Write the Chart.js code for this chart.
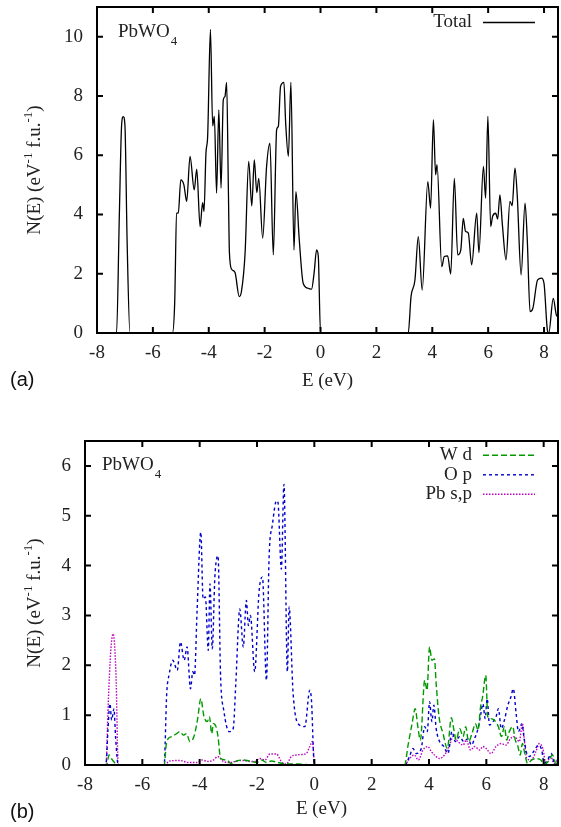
<!DOCTYPE html>
<html><head><meta charset="utf-8">
<script src="https://cdn.jsdelivr.net/npm/chart.js@4.4.1/dist/chart.umd.min.js"></script>
<style>
html,body{margin:0;padding:0;background:#fff;width:561px;height:827px;overflow:hidden}
#wa{position:absolute;left:0;top:0;width:561px;height:410px}
#wb{position:absolute;left:0;top:410px;width:561px;height:417px}
canvas{display:block}
</style></head><body>
<div id="wa"><canvas id="ca" width="561" height="410" style="width:561px;height:410px"></canvas></div>
<div id="wb"><canvas id="cb" width="561" height="417" style="width:561px;height:417px"></canvas></div>
<script>
// ---- tick labels ----
const xTicks = [-8, -6, -4, -2, 0, 2, 4, 6, 8];
const yTicksA = [0, 2, 4, 6, 8, 10];
const yTicksB = [0, 1, 2, 3, 4, 5, 6];

// ---- series: [E (eV), N(E)] ----
const totalDos = [[-8,0],[-7.3,0],[-7.2,4.0],[-7.12,7.0],[-7.06,7.3],[-7.0,7.0],[-6.92,3.0],[-6.82,0],
[-5.3,0],[-5.22,1.0],[-5.15,4.04],[-5.09,4.05],[-5.0,5.17],[-4.89,5.0],[-4.79,4.44],[-4.67,5.96],[-4.52,4.83],[-4.43,5.53],[-4.31,3.59],[-4.22,4.40],[-4.17,4.1],[-4.10,6.07],[-4.04,6.63],[-3.94,10.24],[-3.86,6.99],[-3.80,7.31],[-3.72,4.72],[-3.64,7.53],[-3.56,4.89],[-3.48,7.87],[-3.42,7.98],[-3.36,8.46],[-3.30,5.0],[-3.26,2.7],[-3.18,2.15],[-3.06,2.04],[-2.91,1.23],[-2.83,1.4],[-2.70,2.69],[-2.57,5.79],[-2.46,4.29],[-2.37,5.84],[-2.28,4.74],[-2.21,5.22],[-2.07,3.2],[-1.93,5.62],[-1.81,6.41],[-1.69,2.64],[-1.57,6.86],[-1.51,6.97],[-1.43,8.32],[-1.31,8.46],[-1.25,7.14],[-1.15,5.96],[-1.06,8.46],[-0.95,2.80],[-0.88,4.77],[-0.76,3.14],[-0.62,1.68],[-0.44,1.51],[-0.32,1.48],[-0.23,2.02],[-0.14,2.80],[-0.08,2.6],[0,0],
[3.14,0],[3.24,1.23],[3.38,1.79],[3.50,3.25],[3.64,1.45],[3.84,5.11],[3.94,4.21],[4.04,7.2],[4.12,5.34],[4.17,5.68],[4.34,2.24],[4.43,2.58],[4.55,2.6],[4.66,1.99],[4.79,5.22],[4.91,2.64],[5.02,2.8],[5.11,3.87],[5.19,3.43],[5.29,3.37],[5.41,2.30],[5.59,4.04],[5.67,2.71],[5.83,5.62],[5.91,4.55],[5.99,7.31],[6.09,3.59],[6.16,3.94],[6.27,4.04],[6.34,3.84],[6.42,4.66],[6.51,3.65],[6.64,2.47],[6.78,4.44],[6.86,4.3],[6.96,5.56],[7.04,4.66],[7.18,1.96],[7.32,4.38],[7.40,3.15],[7.50,0.72],[7.60,0.83],[7.77,1.79],[7.91,1.85],[8.00,1.67],[8.12,0.1],[8.17,0],[8.33,1.17],[8.44,0.61],[8.5,0.55]];

const wdDos = [[-8,0],[-7.25,0],[-7.16,0.2],[-7.08,0.13],[-7.0,0.07],[-6.88,0],
[-5.24,0],[-5.15,0.47],[-4.98,0.57],[-4.8,0.63],[-4.69,0.67],[-4.57,0.6],[-4.46,0.63],[-4.34,0.47],[-4.20,0.57],[-4.07,0.93],[-3.96,1.33],[-3.85,0.97],[-3.73,0.87],[-3.66,0.97],[-3.58,0.63],[-3.52,0.83],[-3.43,0.77],[-3.36,0.57],[-3.27,0.13],[-3.06,0.1],[-2.88,0.02],[-2.71,0.08],[-2.48,0.1],[-2.25,0.08],[-2.01,0.05],[-1.84,0.1],[-1.67,0.05],[-1.50,0.08],[-1.27,0.05],[-0.98,0.02],[-0.63,0.02],[0,0],
[3.15,0],[3.27,0.4],[3.40,0.8],[3.52,1.13],[3.61,0.77],[3.70,0.5],[3.85,1.7],[3.93,1.5],[4.02,2.37],[4.10,2.1],[4.19,2.13],[4.25,1.63],[4.35,0.97],[4.49,0.63],[4.64,0.33],[4.78,0.95],[4.87,0.7],[4.95,0.5],[5.07,0.73],[5.19,0.57],[5.28,0.77],[5.38,0.47],[5.50,0.63],[5.62,0.83],[5.71,0.7],[5.80,1.17],[5.88,1.4],[5.94,1.7],[5.98,1.8],[6.05,0.97],[6.16,0.93],[6.28,0.9],[6.42,0.77],[6.53,0.57],[6.63,0.77],[6.71,0.5],[6.80,0.67],[6.92,0.77],[7.01,0.5],[7.09,0.4],[7.18,0.2],[7.26,0.43],[7.34,0.23],[7.44,0.03],[7.58,0.1],[7.73,0.13],[7.90,0.1],[8.02,0.01],[8.16,0.07],[8.31,0.2],[8.43,0.03],[8.5,0.05]];

const opDos = [[-8,0],[-7.27,0],[-7.2,0.7],[-7.13,1.23],[-7.07,0.9],[-6.99,1.13],[-6.93,0.53],[-6.84,0],
[-5.24,0],[-5.15,1.43],[-5.06,1.83],[-4.94,2.1],[-4.78,1.9],[-4.67,2.47],[-4.54,2.1],[-4.44,2.37],[-4.32,1.53],[-4.24,1.87],[-4.18,1.8],[-4.09,3.1],[-3.96,4.67],[-3.88,3.33],[-3.80,3.37],[-3.70,2.3],[-3.64,3.63],[-3.56,2.33],[-3.47,3.77],[-3.36,4.2],[-3.27,1.77],[-3.16,1.1],[-2.97,0.67],[-2.83,0.73],[-2.74,1.63],[-2.60,3.13],[-2.48,2.37],[-2.37,3.3],[-2.30,2.8],[-2.23,3.0],[-2.08,1.87],[-1.93,3.47],[-1.81,3.77],[-1.67,1.7],[-1.58,4.13],[-1.46,4.83],[-1.32,5.3],[-1.27,5.27],[-1.15,3.93],[-1.06,5.63],[-0.94,1.87],[-0.88,3.17],[-0.74,1.43],[-0.57,0.83],[-0.33,0.77],[-0.16,1.5],[-0.10,1.3],[0,0],
[3.15,0],[3.32,0.17],[3.44,0.33],[3.55,0.23],[3.73,0.33],[3.85,0.77],[3.94,0.67],[4.02,1.27],[4.10,0.87],[4.17,1.2],[4.25,0.73],[4.37,0.47],[4.52,0.37],[4.66,0.23],[4.80,0.67],[4.92,0.47],[5.07,0.57],[5.21,0.47],[5.36,0.53],[5.48,0.4],[5.59,0.53],[5.71,0.73],[5.80,1.0],[5.88,1.23],[5.96,0.93],[6.03,1.33],[6.11,0.8],[6.23,0.87],[6.34,0.97],[6.42,1.13],[6.52,0.73],[6.63,0.9],[6.75,1.2],[6.86,1.37],[6.94,1.53],[7.04,1.03],[7.12,0.67],[7.24,0.83],[7.31,0.57],[7.39,0.27],[7.50,0.17],[7.65,0.27],[7.82,0.4],[7.93,0.3],[8.02,0.03],[8.16,0.13],[8.27,0.23],[8.36,0.07],[8.48,0.1]];

const pbDos = [[-8,0],[-7.27,0],[-7.19,1.23],[-7.10,2.3],[-7.02,2.63],[-6.92,1.83],[-6.84,0],
[-5.24,0],[-5.04,0.08],[-4.69,0.09],[-4.40,0.05],[-4.11,0.05],[-3.93,0.1],[-3.7,0.07],[-3.52,0.1],[-3.37,0.17],[-3.17,0.07],[-2.94,0.05],[-2.71,0.08],[-2.48,0.09],[-2.25,0.07],[-2.08,0.07],[-1.90,0.13],[-1.72,0.1],[-1.55,0.22],[-1.32,0.22],[-1.15,0.07],[-0.98,0.02],[-0.80,0.17],[-0.63,0.2],[-0.45,0.21],[-0.28,0.23],[-0.16,0.37],[-0.07,0.47],[0,0.07],[0.02,0],
[3.15,0],[3.32,0.13],[3.49,0.2],[3.63,0.1],[3.79,0.3],[3.96,0.37],[4.08,0.27],[4.19,0.2],[4.37,0.13],[4.54,0.2],[4.72,0.4],[4.84,0.57],[5.01,0.47],[5.19,0.4],[5.30,0.5],[5.45,0.3],[5.59,0.37],[5.77,0.3],[5.88,0.37],[6.0,0.33],[6.16,0.23],[6.34,0.37],[6.52,0.43],[6.69,0.4],[6.84,0.53],[6.98,0.57],[7.15,0.47],[7.26,0.83],[7.32,0.53],[7.41,0.13],[7.56,0.1],[7.73,0.27],[7.85,0.43],[7.97,0.33],[8.08,0.03],[8.25,0.17],[8.36,0.03],[8.48,0.1]];

// ---- drawing helpers ----
const SERIF = '"Liberation Serif", "Times New Roman", serif';
const TXT = '#222';
const toPts = arr => arr.map(([x, y]) => ({x, y}));

function drawYTitle(ctx, cx, cy) {
  const parts = [['N(E) (eV', 0], ['-1', 1], [' f.u.', 0], ['-1', 1], [')', 0]];
  const big = '19px ' + SERIF, small = '13px ' + SERIF;
  let w = 0;
  parts.forEach(([t, s]) => { ctx.font = s ? small : big; w += ctx.measureText(t).width; });
  ctx.save();
  ctx.translate(cx, cy); ctx.rotate(-Math.PI / 2);
  ctx.fillStyle = TXT; ctx.textAlign = 'left'; ctx.textBaseline = 'alphabetic';
  let xx = -w / 2;
  parts.forEach(([t, s]) => { ctx.font = s ? small : big; ctx.fillText(t, xx, s ? -8 : 0); xx += ctx.measureText(t).width; });
  ctx.restore();
}

function framePlugin(cfg) {
  return {
    id: 'frame' + cfg.tag,
    afterDraw(chart) {
      const {ctx, chartArea: a, scales: {x, y}} = chart;
      ctx.save();
      ctx.strokeStyle = '#000'; ctx.lineWidth = 2; ctx.setLineDash([]);
      ctx.strokeRect(a.left, a.top, a.right - a.left, a.bottom - a.top);
      ctx.beginPath();
      const tl = 6;
      cfg.xTicks.forEach(v => { const p = x.getPixelForValue(v);
        ctx.moveTo(p, a.bottom); ctx.lineTo(p, a.bottom - tl);
        ctx.moveTo(p, a.top); ctx.lineTo(p, a.top + tl); });
      cfg.yTicks.forEach(v => { const p = y.getPixelForValue(v);
        ctx.moveTo(a.left, p); ctx.lineTo(a.left + tl, p);
        ctx.moveTo(a.right, p); ctx.lineTo(a.right - tl, p); });
      ctx.stroke();
      // compound label
      ctx.fillStyle = TXT; ctx.textAlign = 'left'; ctx.textBaseline = 'alphabetic';
      ctx.font = '19px ' + SERIF;
      ctx.fillText('PbWO', cfg.fx, cfg.fy);
      const fw = ctx.measureText('PbWO').width;
      ctx.font = '13px ' + SERIF;
      ctx.fillText('4', cfg.fx + fw + 1, cfg.fy + 8);
      // legend
      chart.data.datasets.forEach((ds, i) => {
        const yy = a.top + cfg.legTop + i * cfg.legStep;
        ctx.font = '19px ' + SERIF; ctx.fillStyle = TXT;
        ctx.textAlign = 'right'; ctx.textBaseline = 'middle';
        ctx.fillText(ds.label, cfg.legText, yy);
        ctx.strokeStyle = ds.borderColor; ctx.lineWidth = ds.borderWidth;
        ctx.setLineDash(ds.borderDash || []);
        ctx.beginPath(); ctx.moveTo(cfg.legX0, yy); ctx.lineTo(cfg.legX1, yy); ctx.stroke();
        ctx.setLineDash([]);
      });
      // y title
      drawYTitle(ctx, 39.5, (a.top + a.bottom) / 2);
      // panel tag
      ctx.font = '20px "Liberation Sans", Arial, sans-serif';
      ctx.fillStyle = '#111'; ctx.textAlign = 'left'; ctx.textBaseline = 'middle';
      ctx.fillText(cfg.panel, 10, cfg.panelY);
      ctx.restore();
    }
  };
}

function scaleOpts(min, max, ticks, fitW, fitH, titlePad, isX) {
  const o = {
    type: 'linear', min, max,
    afterBuildTicks: s => { s.ticks = ticks.map(v => ({value: v})); },
    grid: {display: false, drawTicks: false},
    border: {display: false},
    ticks: {font: {family: SERIF, size: 19}, color: TXT, padding: isX ? 9 : 14, maxRotation: 0, autoSkip: false}
  };
  if (isX) {
    o.afterFit = s => { s.height = fitH; s.paddingLeft = 0; s.paddingRight = 0; };
    o.title = {display: true, text: 'E (eV)', font: {family: SERIF, size: 19}, color: TXT, padding: {top: 0, bottom: titlePad}};
  } else {
    o.afterFit = s => { s.width = fitW; s.paddingTop = 0; s.paddingBottom = 0; };
  }
  return o;
}

const common = {
  responsive: false, animation: false, devicePixelRatio: 1,
  plugins: {legend: {display: false}, tooltip: {enabled: false}},
  elements: {point: {radius: 0}}
};

// ---- panel (a) ----
new Chart(document.getElementById('ca'), {
  type: 'line',
  data: {datasets: [{label: 'Total', data: toPts(totalDos), borderColor: '#000', borderWidth: 1.3,
    cubicInterpolationMode: 'monotone', fill: false, pointRadius: 0}]},
  options: Object.assign({}, common, {
    layout: {padding: {top: 7, right: 3, left: 0, bottom: 0}},
    scales: {
      x: scaleOpts(-8, 8.5, xTicks, 0, 77, 18, true),
      y: scaleOpts(0, 11, yTicksA, 97, 0, 0, false)
    }
  }),
  plugins: [framePlugin({tag: 'a', xTicks, yTicks: yTicksA, fx: 118, fy: 37, legTop: 15.5, legStep: 19.5,
    legText: 472, legX0: 483, legX1: 535, panel: '(a)', panelY: 380})]
});

// ---- panel (b) ----
new Chart(document.getElementById('cb'), {
  type: 'line',
  data: {datasets: [
    {label: 'W d', data: toPts(wdDos), borderColor: '#009a00', borderWidth: 1.4, borderDash: [6, 3],
      cubicInterpolationMode: 'monotone', fill: false, pointRadius: 0},
    {label: 'O p', data: toPts(opDos), borderColor: '#0000cc', borderWidth: 1.4, borderDash: [3, 3],
      cubicInterpolationMode: 'monotone', fill: false, pointRadius: 0},
    {label: 'Pb s,p', data: toPts(pbDos), borderColor: '#c000c0', borderWidth: 1.4, borderDash: [1.5, 1.5],
      cubicInterpolationMode: 'monotone', fill: false, pointRadius: 0}
  ]},
  options: Object.assign({}, common, {
    layout: {padding: {top: 31, right: 3, left: 0, bottom: 0}},
    scales: {
      x: scaleOpts(-8, 8.5, xTicks, 0, 62, 7, true),
      y: scaleOpts(0, 6.5, yTicksB, 85, 0, 0, false)
    }
  }),
  plugins: [framePlugin({tag: 'b', xTicks, yTicks: yTicksB, fx: 102, fy: 60, legTop: 14.3, legStep: 19.5,
    legText: 472, legX0: 483, legX1: 535, panel: '(b)', panelY: 402})]
});
</script>
</body></html>
